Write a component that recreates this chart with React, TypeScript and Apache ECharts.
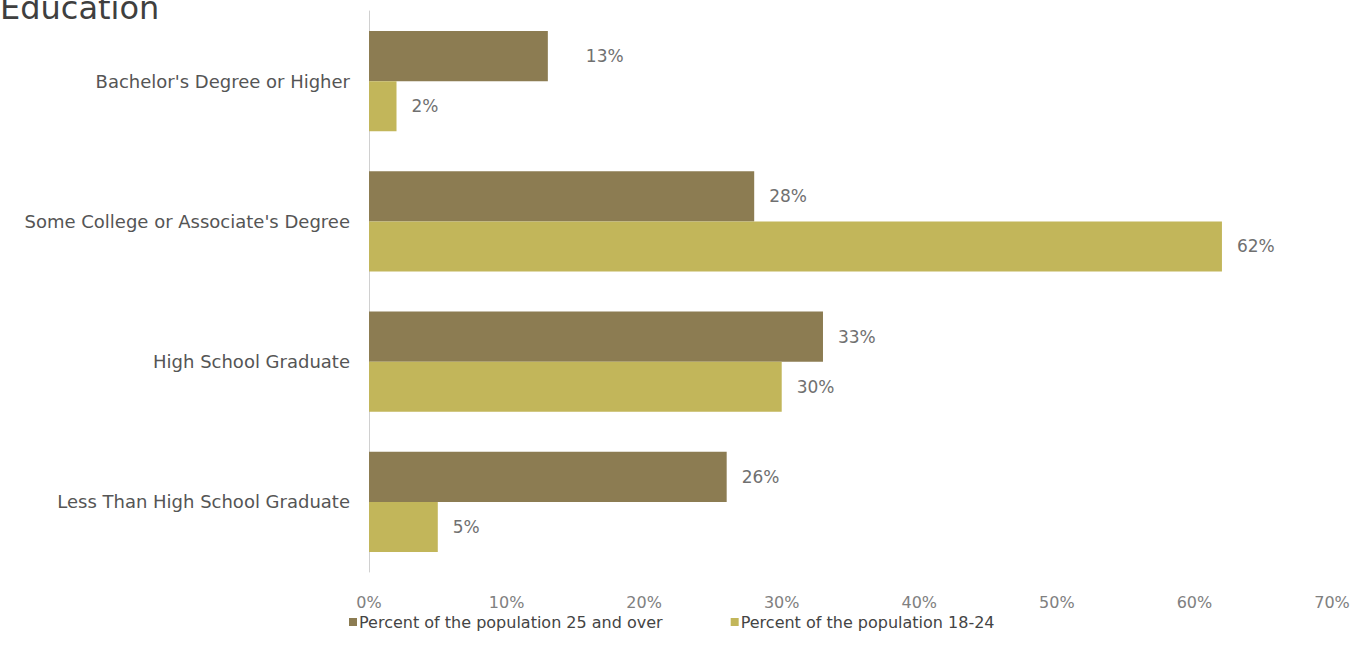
import React, { useEffect, useRef } from "react";
import * as echarts from "echarts";

const categories = [
  "Bachelor's Degree or Higher",
  "Some College or Associate's Degree",
  "High School Graduate",
  "Less Than High School Graduate",
];
const seriesNames = ["Percent of the population 25 and over", "Percent of the population 18-24"];
const pop25Over = [13, 28, 33, 26];
const pop18to24 = [2, 62, 30, 5];
const xTicks = [0, 10, 20, 30, 40, 50, 60, 70];

const FONT = "DejaVu Sans";
const BROWN = "#8c7c52";
const GOLD = "#c2b65a";

export default function App() {
  const ref = useRef<HTMLDivElement>(null);
  useEffect(() => {
    document.body.style.margin = "0";
    document.body.style.overflow = "hidden";
    const chart = echarts.init(ref.current!, undefined, { renderer: "svg" });
    const labelStyle = {
      show: true,
      position: "right",
      distance: 15,
      formatter: "{c}%",
      color: "#707070",
      fontSize: 17,
      fontFamily: FONT,
    };
    chart.setOption({
      animation: false,
      textStyle: { fontFamily: FONT },
      graphic: [
        {
          type: "text",
          left: 0,
          top: -8,
          style: {
            text: "Education",
            fontSize: 32,
            fontFamily: FONT,
            fill: "#3f3f3f",
          },
        },
      ],
      legend: {
        left: 349,
        top: 614,
        padding: 0,
        itemWidth: 8,
        itemHeight: 8,
        itemGap: 68,
        icon: "rect",
        data: seriesNames,
        textStyle: { fontSize: 16, color: "#444", fontFamily: FONT, padding: [0, 0, 0, -3] },
      },
      grid: { left: 369, right: 37, top: 11, bottom: 90, containLabel: false },
      xAxis: {
        type: "value",
        min: xTicks[0],
        max: xTicks[xTicks.length - 1],
        interval: 10,
        axisLine: { show: false },
        axisTick: { show: false },
        splitLine: { show: false },
        axisLabel: {
          formatter: "{value}%",
          color: "#808080",
          fontSize: 16,
          fontFamily: FONT,
          margin: 22,
        },
      },
      yAxis: {
        type: "category",
        inverse: true,
        data: categories,
        axisLine: { show: true, lineStyle: { color: "#d0d0d0", width: 1 } },
        axisTick: { show: false },
        axisLabel: { color: "#555", fontSize: 18, fontFamily: FONT, margin: 19 },
      },
      series: [
        {
          name: seriesNames[0],
          type: "bar",
          data: pop25Over.map((v, i) =>
            i === 0 ? { value: v, label: { distance: 38 } } : v
          ),
          itemStyle: { color: BROWN },
          barGap: "0%",
          barCategoryGap: "28.6%",
          label: labelStyle,
        },
        {
          name: seriesNames[1],
          type: "bar",
          data: pop18to24,
          itemStyle: { color: GOLD },
          barGap: "0%",
          barCategoryGap: "28.6%",
          label: labelStyle,
        },
      ],
    });
    return () => chart.dispose();
  }, []);
  return <div ref={ref} style={{ width: 1369, height: 662 }} />;
}
